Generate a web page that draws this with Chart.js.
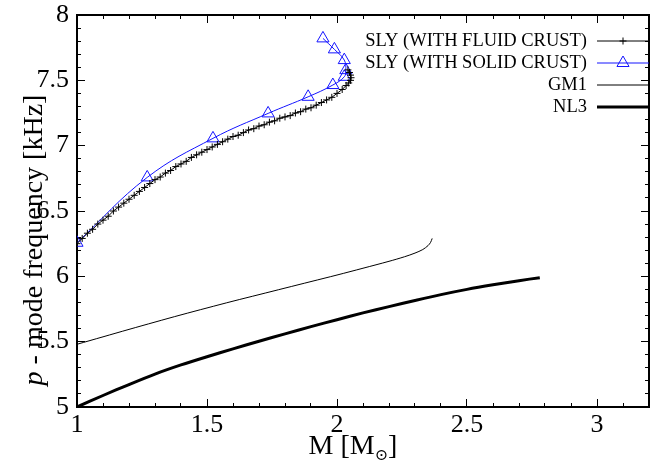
<!DOCTYPE html>
<html>
<head>
<meta charset="utf-8">
<script src="https://cdn.jsdelivr.net/npm/chart.js@4.4.1/dist/chart.umd.min.js"></script>
<style>
html, body { margin: 0; padding: 0; background: #fff; }
#wrap { width: 657px; height: 462px; position: relative; }
</style>
</head>
<body>
<div id="wrap"><canvas id="mycanvas"></canvas></div>
<script>
// SLY with fluid crust (dense + markers)
var slyFluidM = [1.00, 1.02, 1.04, 1.06, 1.08, 1.10, 1.12, 1.14, 1.16, 1.18, 1.20, 1.22, 1.24, 1.26, 1.28,
                 1.30, 1.32, 1.34, 1.36, 1.38, 1.40, 1.42, 1.44, 1.46, 1.48, 1.50, 1.52, 1.54, 1.56, 1.58,
                 1.60, 1.62, 1.64, 1.66, 1.68, 1.70, 1.72, 1.74, 1.76, 1.78, 1.80, 1.82, 1.84, 1.86, 1.88,
                 1.90, 1.92, 1.94, 1.96, 1.98, 2.00, 2.02, 2.035, 2.045, 2.052, 2.054, 2.052, 2.048, 2.042];
var slyFluidF = [6.25, 6.29, 6.33, 6.36, 6.40, 6.43, 6.46, 6.50, 6.53, 6.56, 6.59, 6.62, 6.65, 6.68, 6.71,
                 6.74, 6.76, 6.79, 6.81, 6.84, 6.86, 6.88, 6.91, 6.93, 6.95, 6.97, 6.99, 7.01, 7.03, 7.05,
                 7.07, 7.08, 7.10, 7.12, 7.13, 7.15, 7.16, 7.18, 7.19, 7.21, 7.22, 7.23, 7.25, 7.26, 7.28,
                 7.29, 7.31, 7.33, 7.35, 7.37, 7.40, 7.43, 7.46, 7.48, 7.50, 7.52, 7.54, 7.56, 7.58];

// SLY with solid crust (triangles)
var slySolidM = [1.00, 1.27, 1.523, 1.735, 1.889, 1.984, 2.028, 2.034, 2.028, 1.99, 1.946];
var slySolidF = [6.257, 6.757, 7.056, 7.247, 7.374, 7.464, 7.527, 7.578, 7.655, 7.737, 7.821];

// GM1
var gm1M = [1.00, 1.10, 1.20, 1.30, 1.40, 1.50, 1.60, 1.70, 1.80, 1.90, 2.00, 2.10, 2.20, 2.26, 2.30, 2.33, 2.35, 2.36, 2.366];
var gm1F = [5.48, 5.537, 5.594, 5.65, 5.705, 5.758, 5.81, 5.86, 5.91, 5.96, 6.01, 6.062, 6.115, 6.15, 6.178, 6.205, 6.235, 6.26, 6.29];

// NL3
var nl3M = [1.00, 1.10, 1.20, 1.30, 1.40, 1.50, 1.60, 1.70, 1.80, 1.90, 2.00, 2.10, 2.20, 2.30, 2.40, 2.50, 2.60, 2.70, 2.78];
var nl3F = [5.00, 5.088, 5.172, 5.252, 5.322, 5.385, 5.445, 5.503, 5.56, 5.615, 5.668, 5.72, 5.768, 5.815, 5.86, 5.90, 5.935, 5.967, 5.99];

var seriesLabels = ["SLY (WITH FLUID CRUST)", "SLY (WITH SOLID CRUST)", "GM1", "NL3"];
var xTicks = [1, 1.5, 2, 2.5, 3];
var yTicks = [5, 5.5, 6, 6.5, 7, 7.5, 8];
var xMinorTicks = [1.1, 1.2, 1.3, 1.4, 1.6, 1.7, 1.8, 1.9, 2.1, 2.2, 2.3, 2.4, 2.6, 2.7, 2.8, 2.9, 3.1, 3.2];
var yMinorTicks = [5.1, 5.2, 5.3, 5.4, 5.6, 5.7, 5.8, 5.9, 6.1, 6.2, 6.3, 6.4, 6.6, 6.7, 6.8, 6.9,
                   7.1, 7.2, 7.3, 7.4, 7.6, 7.7, 7.8, 7.9];

function pts(xs, ys) {
    var out = [];
    for (var i = 0; i < xs.length; i++) {
        out.push({x: xs[i], y: ys[i]});
    }
    return out;
}

var BLUE = "#1414ff";
var SERIF = "'Liberation Serif', 'DejaVu Serif', serif";

// one axis of the boxed frame: ticks pointing inward, optional labels
function frameAxis(pos, lo, hi, tickList, tickLen, opts) {
    var horiz = (pos === "top" || pos === "bottom");
    var s = {
        type: "linear",
        position: pos,
        min: lo,
        max: hi,
        weight: opts.weight || 0,
        afterBuildTicks: function(scale) {
            scale.ticks = tickList.map(function(v) { return {value: v}; });
        },
        afterFit: function(scale) {
            if (horiz) {
                scale.height = opts.size || 0;
                scale.paddingLeft = 0;
                scale.paddingRight = 0;
            } else {
                scale.width = opts.size || 0;
                scale.paddingTop = 0;
                scale.paddingBottom = 0;
            }
        },
        grid: {
            display: true,
            drawOnChartArea: false,
            drawTicks: true,
            tickLength: -tickLen,
            color: "#000",
            lineWidth: 1
        },
        border: { display: !!opts.border, color: "#000", width: 2 },
        ticks: { display: false }
    };
    if (opts.labels) {
        s.ticks = {
            display: true,
            color: "#000",
            font: { family: SERIF, size: 26 },
            padding: opts.pad,
            maxRotation: 0,
            autoSkip: false,
            callback: function(v) { return String(v); }
        };
    }
    return s;
}

// legend (text right-aligned, sample on the right) and axis titles
var textPlugin = {
    id: "texts",
    afterDraw: function(chart) {
        var g = chart.ctx;
        var a = chart.chartArea;
        var ds = chart.data.datasets;
        g.save();
        g.font = "18.5px " + SERIF;
        g.textAlign = "right";
        g.textBaseline = "middle";
        for (var i = 0; i < ds.length; i++) {
            var ly = 41 + 22 * i;
            g.fillStyle = "#000";
            g.fillText(ds[i].label, 587, ly);
            g.strokeStyle = ds[i].borderColor;
            g.lineWidth = ds[i].borderWidth;
            g.beginPath();
            g.moveTo(597, ly);
            g.lineTo(649, ly);
            g.stroke();
            if (ds[i].pointRadius > 0) {
                g.fillStyle = "rgba(0,0,0,0)";
                g.lineWidth = 1;
                Chart.helpers.drawPoint(g, {
                    pointStyle: ds[i].pointStyle,
                    radius: ds[i].pointRadius,
                    borderWidth: 1
                }, 623, ly);
            }
        }

        // x title: M [M_sun]
        g.fillStyle = "#000";
        g.textAlign = "left";
        g.textBaseline = "alphabetic";
        g.font = "16px " + SERIF;
        var wSub = g.measureText("\u2299").width;
        g.font = "28px " + SERIF;
        var w1 = g.measureText("M [M").width, w3 = g.measureText("]").width;
        var cx = (a.left + a.right) / 2 - 10;
        var x0 = cx - (w1 + wSub + w3) / 2;
        g.fillText("M [M", x0, 454);
        g.font = "16px " + SERIF;
        g.fillText("\u2299", x0 + w1, 460);
        g.font = "28px " + SERIF;
        g.fillText("]", x0 + w1 + wSub, 454);

        // y title: p - mode frequency [kHz]
        g.translate(42, 240);
        g.rotate(-Math.PI / 2);
        g.font = "italic 28px " + SERIF;
        var wp = g.measureText("p").width;
        g.font = "28px " + SERIF;
        var rest = " - mode frequency [kHz]";
        var wr = g.measureText(rest).width;
        var s0 = -(wp + wr) / 2;
        g.font = "italic 28px " + SERIF;
        g.fillText("p", s0, 0);
        g.font = "28px " + SERIF;
        g.fillText(rest, s0 + wp, 0);
        g.restore();
    }
};

var chartdata = {
    datasets: [
        {
            label: seriesLabels[0],
            data: pts(slyFluidM, slyFluidF),
            showLine: true,
            borderColor: "#000",
            backgroundColor: "#000",
            borderWidth: 1,
            pointStyle: "cross",
            pointRadius: 3.5,
            pointBorderWidth: 1,
            tension: 0
        },
        {
            label: seriesLabels[1],
            data: pts(slySolidM, slySolidF),
            showLine: true,
            borderColor: BLUE,
            backgroundColor: "rgba(0,0,0,0)",
            borderWidth: 1,
            pointStyle: "triangle",
            pointRadius: 7,
            pointBorderWidth: 1,
            tension: 0.4
        },
        {
            label: seriesLabels[2],
            data: pts(gm1M, gm1F),
            showLine: true,
            borderColor: "#000",
            borderWidth: 1,
            pointRadius: 0,
            tension: 0.3
        },
        {
            label: seriesLabels[3],
            data: pts(nl3M, nl3F),
            showLine: true,
            borderColor: "#000",
            borderWidth: 3,
            pointRadius: 0,
            tension: 0.3
        }
    ]
};

var LineGraph = new Chart(document.getElementById("mycanvas"), {
    type: "scatter",
    data: chartdata,
    options: {
        responsive: true,
        maintainAspectRatio: false,
        animation: false,
        layout: { padding: { top: 15, right: 1, left: 0, bottom: 0 } },
        plugins: { legend: { display: false }, tooltip: { enabled: false } },
        scales: {
            x:   frameAxis("bottom", 1, 3.2, xTicks, 8, { labels: true, pad: 11, size: 55, border: true }),
            xm:  frameAxis("bottom", 1, 3.2, xMinorTicks, 4, { weight: -1 }),
            xt:  frameAxis("top", 1, 3.2, xTicks, 8, { border: true }),
            xtm: frameAxis("top", 1, 3.2, xMinorTicks, 4, { weight: -1 }),
            y:   frameAxis("left", 5, 8, yTicks, 8, { labels: true, pad: 16, size: 77, border: true }),
            ym:  frameAxis("left", 5, 8, yMinorTicks, 4, { weight: -1 }),
            yr:  frameAxis("right", 5, 8, yTicks, 8, { border: true }),
            yrm: frameAxis("right", 5, 8, yMinorTicks, 4, { weight: -1 })
        }
    },
    plugins: [textPlugin]
});
</script>
</body>
</html>
